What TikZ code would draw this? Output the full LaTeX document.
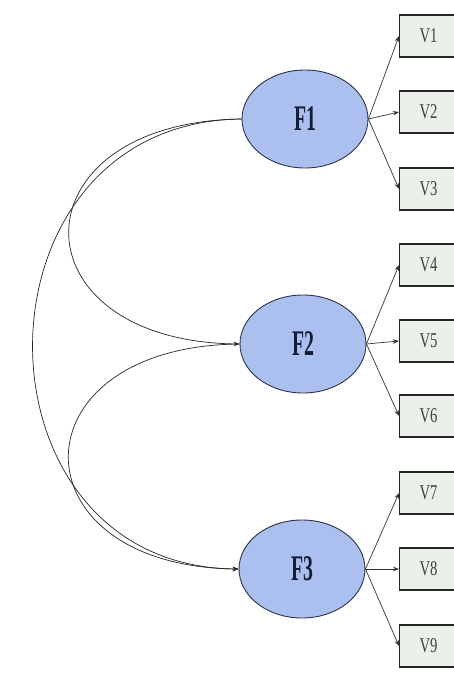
\documentclass[tikz,border=0pt]{standalone}
\usepackage{fontspec}
\setmainfont{Liberation Serif}
\usetikzlibrary{shapes.geometric,arrows.meta}
\definecolor{factfill}{RGB}{172,192,240}
\definecolor{factline}{RGB}{45,50,70}
\definecolor{facttext}{RGB}{20,28,55}
\definecolor{boxfill}{RGB}{236,240,234}
\definecolor{boxtext}{RGB}{60,68,60}
\tikzset{
  factor/.style={ellipse, draw=factline, line width=0.9pt, fill=factfill,
    minimum width=126pt, minimum height=98pt, inner sep=0pt,
    text=facttext, font=\fontsize{36}{38}\selectfont\bfseries},
  indicator/.style={rectangle, draw=black!85, line width=1.2pt, fill=boxfill,
    minimum width=58pt, minimum height=42pt, inner sep=0pt, anchor=west,
    text=boxtext, font=\fontsize{21}{23}\selectfont},
  load/.style={draw=black!80, line width=0.7pt, -{Stealth[length=6pt,width=4.5pt]}},
  cov/.style={draw=black!85, line width=0.7pt, -{Stealth[length=6pt,width=4.5pt]}}
}
\newcommand{\narrowF}[1]{\scalebox{0.55}[1]{#1}}
\newcommand{\narrowV}[1]{\scalebox{0.7}[1]{#1}}
\begin{document}
\begin{tikzpicture}[x=1pt,y=-1pt]
\useasboundingbox (0,0) rectangle (454,693);
\fill[white] (0,0) rectangle (454,693);
\clip (0,0) rectangle (454,693);
% factors
\node[factor] (F1) at (305,119) {\narrowF{F1}};
\node[factor] (F2) at (303,344) {\narrowF{F2}};
\node[factor] (F3) at (302,569) {\narrowF{F3}};
% indicators
\node[indicator] (V1) at (399,36)  {\narrowV{V1}};
\node[indicator] (V2) at (399,112) {\narrowV{V2}};
\node[indicator] (V3) at (399,189) {\narrowV{V3}};
\node[indicator] (V4) at (399,265) {\narrowV{V4}};
\node[indicator] (V5) at (399,341) {\narrowV{V5}};
\node[indicator] (V6) at (399,416) {\narrowV{V6}};
\node[indicator] (V7) at (399,493) {\narrowV{V7}};
\node[indicator] (V8) at (399,569) {\narrowV{V8}};
\node[indicator] (V9) at (399,646) {\narrowV{V9}};
% loadings
\foreach \f/\a/\b/\c in {F1/V1/V2/V3, F2/V4/V5/V6, F3/V7/V8/V9}{
  \draw[load] (\f.east) -- (\a.west);
  \draw[load] (\f.east) -- (\b.west);
  \draw[load] (\f.east) -- (\c.west);
}
% covariances
\draw[cov] (F1.west) .. controls (12,122) and (12,341) .. (F2.west);
\draw[cov] (F1.west) .. controls (-36,122) and (-36,566) .. (F3.west);
\draw[cov] (F2.west) .. controls (12,346) and (12,566) .. (F3.west);
\end{tikzpicture}
\end{document}
